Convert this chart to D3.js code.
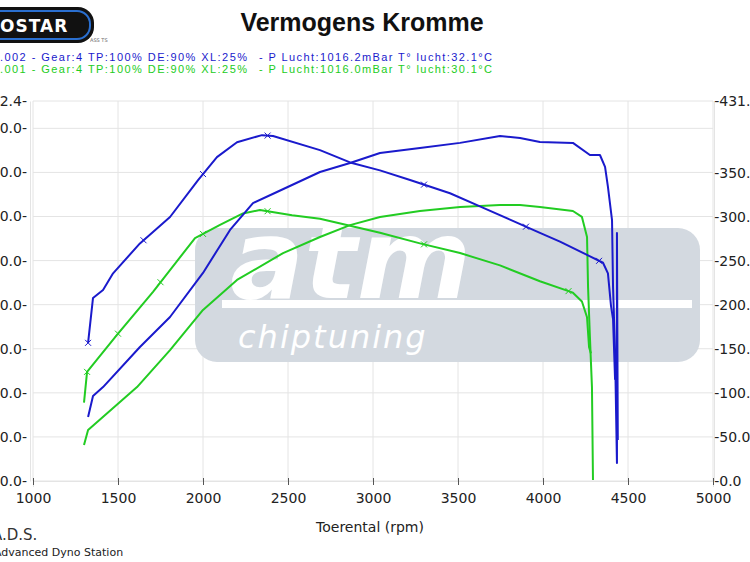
<!DOCTYPE html>
<html><head><meta charset="utf-8">
<script src="https://cdn.jsdelivr.net/npm/d3@7"></script>
<style>body{margin:0;background:#fff}svg{display:block;font-family:"DejaVu Sans",sans-serif}</style>
</head><body><svg id="c" width="750" height="562"></svg>
<script>
const xTicks=[1000,1500,2000,2500,3000,3500,4000,4500,5000];
const leftTicks=[0,20,40,60,80,100,120,140,160,172.4];
const rightTicks=[0,50,100,150,200,250,300,350,431.8];
// blue run (002)
const bTorqRpm=[1324,1353,1412,1471,1629,1806,1971,2082,2200,2347,2412,2688,2865,3041,3218,3453,3629,3806,3982,4100,4247,4353,4382,4400,4412,4424];
const bTorqNm=[157,208,217,236,270,300,342,368,385,393,392,376,362,353,342,327,312,297,282,272,258,248,236,199,184,115];
const bPowRpm=[1324,1353,1412,1629,1806,2000,2159,2294,2435,2688,2865,3041,3276,3512,3747,3865,3982,4176,4276,4335,4365,4382,4406,4412,4424,4435,4435,4440];
const bPowKw=[29,38.6,42.6,60.8,74.4,94.4,113.9,126.1,131.1,140.2,144.3,148.8,151.1,153.4,156.5,155.6,153.8,153.4,147.9,147.9,142.5,133.4,118.4,88,58,8.2,112.5,18.6];
// green run (001)
const gTorqRpm=[1300,1318,1494,1706,1953,2100,2235,2335,2524,2688,2865,3041,3276,3512,3747,3982,4176,4229,4259,4271,4282];
const gTorqNm=[89,124,166,215,276,291,304,308,302,298,290,282,270,259,245,227,214,204,186,152,145];
const gPowRpm=[1300,1324,1612,1806,2000,2200,2471,2688,2865,3041,3276,3512,3747,3865,3982,4176,4229,4259,4265,4276,4288,4294];
const gPowKw=[16.3,23.1,42.6,59.4,77.6,91.2,103.4,110.7,116.1,119.8,122.5,124.3,125.2,125.2,124.3,122.5,119.8,110.7,88,65.3,42.6,0.5];
const bMarks=[1324,1650,2000,2380,3300,3900,4330];
const gMarks=[1318,1500,1750,2000,2380,3300,4150];
const legend1=[".002 - Gear:4 TP:100% DE:90% XL:25%","- P Lucht:1016.2mBar T° lucht:32.1°C"];
const legend2=[".001 - Gear:4 TP:100% DE:90% XL:25%","- P Lucht:1016.0mBar T° lucht:30.1°C"];

const svg=d3.select("#c");
const L=33,R=713,T=101,B=481;
const x=d3.scaleLinear().domain([1000,5000]).range([L,R]);
const yL=d3.scaleLinear().domain([0,172.4]).range([B,T]);
const yR=d3.scaleLinear().domain([0,431.8]).range([B,T]);
const BLUE="#1a1acc",GREEN="#22cc22";
const F="Verdana, DejaVu Sans, sans-serif";

const g=svg.append("g");
xTicks.forEach(t=>g.append("line").attr("x1",x(t)).attr("x2",x(t)).attr("y1",T).attr("y2",B).attr("stroke","#e4e4e4"));
leftTicks.forEach(t=>g.append("line").attr("x1",L).attr("x2",R).attr("y1",yL(t)).attr("y2",yL(t)).attr("stroke","#e4e4e4"));

const w=svg.append("g");
w.append("rect").attr("x",195).attr("y",228).attr("width",505).attr("height",134).attr("rx",22).attr("fill","#d3d9e0");
w.append("rect").attr("x",222).attr("y",300).attr("width",470).attr("height",8).attr("fill","#fff");
w.append("text").attr("x",230).attr("y",298).attr("font-size",110).attr("font-weight","bold").attr("font-style","italic").attr("fill","#fff").attr("font-family",F).text("atm");
w.append("text").attr("x",238).attr("y",348).attr("font-size",32).attr("font-style","italic").attr("fill","#fff").attr("letter-spacing",2).text("chiptuning");

const ax=d3.axisBottom(x).tickValues(xTicks).tickSize(6).tickFormat(d3.format("d"));
const axg=svg.append("g").attr("transform",`translate(0,${B})`).call(ax);
axg.select(".domain").attr("stroke","#e4e4e4");
axg.selectAll(".tick line").attr("stroke","#555").attr("y1",-3).attr("y2",4);
axg.selectAll("text").attr("font-size",14).attr("fill","#222").attr("dy","0.9em").attr("font-family",F);
const al=d3.axisLeft(yL).tickValues(leftTicks).tickSize(0).tickFormat(d=>d3.format(".1f")(d)+"-");
const alg=svg.append("g").attr("transform",`translate(${L-3},0)`).call(al);
alg.select(".domain").attr("stroke","#e4e4e4");
alg.selectAll("text").attr("font-size",14).attr("fill","#222").attr("font-family",F);
const ar=d3.axisRight(yR).tickValues(rightTicks).tickSize(0).tickFormat(d=>"-"+d3.format(".1f")(d));
const arg=svg.append("g").attr("transform",`translate(${R+1},0)`).call(ar);
arg.select(".domain").attr("stroke","#e4e4e4");
arg.selectAll("text").attr("font-size",14).attr("fill","#222").attr("dx","-0.2em").attr("font-family",F);

function curve(rpm,vals,scale,col){
  const d=rpm.map((r,i)=>[r,vals[i]]);
  svg.append("path").datum(d).attr("d",d3.line().x(p=>x(p[0])).y(p=>scale(p[1]))).attr("fill","none").attr("stroke",col).attr("stroke-width",2).attr("stroke-linejoin","round");
}
curve(gPowRpm,gPowKw,yL,GREEN);
curve(gTorqRpm,gTorqNm,yR,GREEN);
curve(bPowRpm,bPowKw,yL,BLUE);
curve(bTorqRpm,bTorqNm,yR,BLUE);
function marks(ms,rpm,vals,col){
  const interp=d3.scaleLinear().domain(rpm).range(vals);
  ms.forEach(m=>{
    const cx=x(m),cy=yR(interp(m));
    svg.append("path").attr("d",`M${cx-3},${cy-3}L${cx+3},${cy+3}M${cx-3},${cy+3}L${cx+3},${cy-3}`).attr("stroke",col).attr("stroke-width",1);
  });
}
marks(bMarks,bTorqRpm,bTorqNm,BLUE);
marks(gMarks,gTorqRpm,gTorqNm,GREEN);

svg.append("rect").attr("x",-30).attr("y",7).attr("width",124).attr("height",36).attr("rx",16).attr("fill","#111");
svg.append("rect").attr("x",-26).attr("y",11).attr("width",116).attr("height",28).attr("rx",13).attr("fill","none").attr("stroke","#2a6fd0").attr("stroke-width",2);
svg.append("text").attr("x",0).attr("y",32).attr("font-size",17).attr("font-weight","bold").attr("fill","#fff").attr("font-family",F).attr("letter-spacing",1).text("OSTAR");
svg.append("text").attr("x",90).attr("y",42).attr("font-size",5).attr("fill","#666").text("ASS TS");

svg.append("text").attr("x",362).attr("y",31).attr("text-anchor","middle").attr("font-size",25).attr("font-weight","bold").attr("fill","#111").attr("font-family","Liberation Sans, Arial").text("Vermogens Kromme");
[[legend1,BLUE,61],[legend2,GREEN,73]].forEach(([t,c,y])=>{
  svg.append("text").attr("x",0).attr("y",y).attr("font-size",11).attr("textLength",247).attr("lengthAdjust","spacing").attr("fill",c).attr("font-family","Liberation Sans, Arial").text(t[0]);
  svg.append("text").attr("x",259).attr("y",y).attr("font-size",11).attr("textLength",233).attr("lengthAdjust","spacing").attr("fill",c).attr("font-family","Liberation Sans, Arial").text(t[1]);
});
svg.append("text").attr("x",370).attr("y",532).attr("text-anchor","middle").attr("font-size",14).attr("fill","#222").attr("font-family",F).text("Toerental (rpm)");
svg.append("text").attr("x",-8).attr("y",540).attr("font-size",15).attr("fill","#333").attr("font-family",F).text("A.D.S.");
svg.append("text").attr("x",-6).attr("y",556).attr("font-size",11).attr("fill","#222").attr("font-family",F).text("Advanced Dyno Station");
</script></body></html>
